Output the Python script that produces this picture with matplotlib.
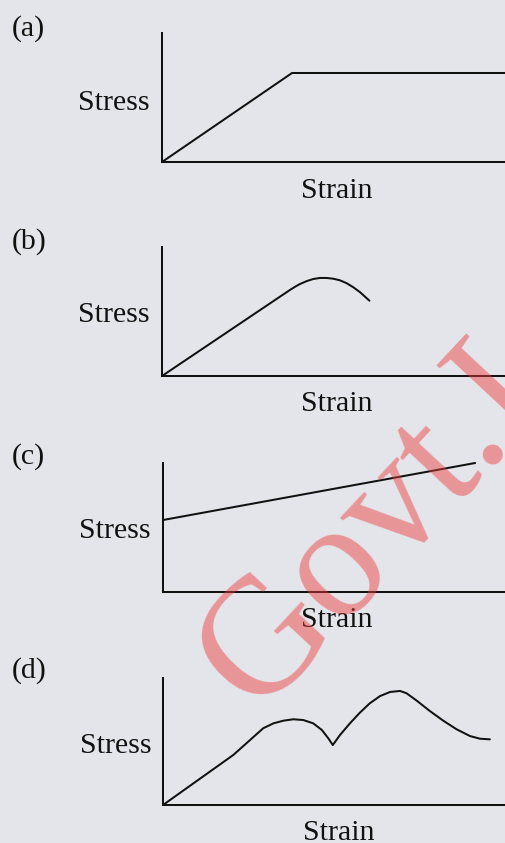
import matplotlib
matplotlib.use("Agg")
import matplotlib.pyplot as plt

W, H = 506, 843
BG = "#e3e5ea"

# ---- data (strain, stress in arbitrary units 0..10) ----
panel_labels = ["(a)", "(b)", "(c)", "(d)"]
y_label = "Stress"
x_label = "Strain"

strain_a = [0, 3.78, 10.0]
stress_a = [0, 6.9, 6.9]

strain_b = [0, 3.72, 3.87, 4.01, 4.21, 4.40, 4.59, 4.79, 4.98, 5.17, 5.37, 5.56, 5.76, 5.90, 6.03]
stress_b = [0, 6.67, 6.92, 7.13, 7.36, 7.52, 7.60, 7.60, 7.54, 7.42, 7.19, 6.88, 6.49, 6.15, 5.84]

strain_c = [0, 9.1]
stress_c = [5.58, 10.0]

strain_d = [0, 2.05, 2.54, 2.92, 3.22, 3.51, 3.80, 4.09, 4.38, 4.63, 4.82, 4.95,
            5.16, 5.45, 5.74, 6.03, 6.33, 6.62, 6.91, 7.10, 7.40, 7.78, 8.17,
            8.56, 8.95, 9.24, 9.53]
stress_d = [0, 3.94, 5.12, 6.04, 6.43, 6.64, 6.75, 6.69, 6.43, 5.91, 5.25, 4.72,
            5.51, 6.43, 7.27, 8.01, 8.58, 8.90, 8.98, 8.80, 8.21, 7.40, 6.64,
            5.96, 5.43, 5.22, 5.17]

watermark = "Govt.I"

series = [(strain_a, stress_a), (strain_b, stress_b), (strain_c, stress_c), (strain_d, stress_d)]

# ---- layout (pixels) ----
# axes: left, top, bottom
axes_px = [(162, 33, 162), (162, 247, 376), (163, 463, 592), (163, 678, 805)]
label_px = [(12, 28.5), (12, 242), (12, 456.5), (12, 671)]
stress_px = [(150, 110), (150, 321.5), (151, 538), (152, 753)]
strain_px = [(337, 198), (337, 411), (337, 627), (339, 840)]

plt.rcParams["font.family"] = ["Liberation Serif", "DejaVu Serif"]
FS = 21.5
LW = 1.45

fig = plt.figure(figsize=(W / 100, H / 100), dpi=100, facecolor=BG)

for (xs, ys), (l, t, b) in zip(series, axes_px):
    ax = fig.add_axes([l / W, 1 - b / H, (W - l) / W, (b - t) / H])
    ax.set_facecolor("none")
    ax.plot(xs, ys, color="#111111", lw=LW, clip_on=False,
            solid_joinstyle="round", solid_capstyle="round")
    ax.set_xlim(0, 10)
    ax.set_ylim(0, 10)
    for s in ["top", "right"]:
        ax.spines[s].set_visible(False)
    for s in ["left", "bottom"]:
        ax.spines[s].set_linewidth(LW)
        ax.spines[s].set_color("#111111")
    ax.set_xticks([])
    ax.set_yticks([])

ov = fig.add_axes([0, 0, 1, 1])
ov.set_xlim(0, W)
ov.set_ylim(H, 0)
ov.axis("off")
ov.set_facecolor("none")

for lab, (x, y) in zip(panel_labels, label_px):
    ov.text(x, y, lab, fontsize=FS, ha="left", va="center", color="#111111")
for (x, y) in stress_px:
    ov.text(x, y, y_label, fontsize=FS, ha="right", va="baseline", color="#111111")
for (x, y) in strain_px:
    ov.text(x, y, x_label, fontsize=FS, ha="center", va="baseline", color="#111111")

ov.text(256, 714, watermark, fontsize=120, rotation=47, rotation_mode="anchor",
        ha="left", va="baseline", color="#ee3b3b", alpha=0.47, clip_on=True)

fig.savefig("out.png", dpi=100, facecolor=BG)
